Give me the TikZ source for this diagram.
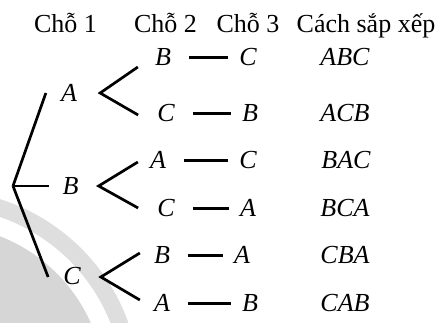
\documentclass[tikz,border=0pt]{standalone}
\usepackage{fontspec}
\setmainfont{Liberation Serif}
\usepackage{tikz}
\definecolor{wmgray}{RGB}{214,214,214}
\definecolor{wmlight}{RGB}{222,222,222}
\newcommand{\bigtext}{\fontsize{26}{30}\selectfont}
\tikzset{
    header/.style={anchor=base, inner sep=0pt, font=\bigtext},
    letter/.style={font=\bigtext\itshape, inner sep=0pt},
    branch/.style={line width=2.7pt},
    link/.style={line width=3pt, shorten <=18pt, shorten >=11pt},
}
\begin{document}
\begin{tikzpicture}[x=1pt, y=-1pt]
\useasboundingbox (0,0) rectangle (448,322);

% Faint background mark
\begin{scope}
\clip (0,0) rectangle (448,322);
\fill[wmlight] (-60,390) circle (200pt);
\fill[white] (-60,390) circle (183pt);
\fill[wmgray] (-60,390) circle (165pt);
\end{scope}

% Column headers
\node[header] (h1) at (65.5, 32) {Chỗ 1};
\node[header] (h2) at (165.5, 32) {Chỗ 2};
\node[header] (h3) at (248, 32) {Chỗ 3};
\node[header] (h4) at (366, 32) {Cách sắp xếp};

% Root and first place
\coordinate (root) at (13, 186);
\node[letter] (la) at (69, 93) {A};
\node[letter] (lb) at (70.5, 186) {B};
\node[letter] (lc) at (72, 276) {C};

% Second place
\node[letter] (s1) at (163, 57) {B};
\node[letter] (s2) at (166, 113) {C};
\node[letter] (s3) at (158, 160) {A};
\node[letter] (s4) at (166, 208) {C};
\node[letter] (s5) at (162, 255) {B};
\node[letter] (s6) at (162, 303) {A};

% Third place
\node[letter] (t1) at (248, 57) {C};
\node[letter] (t2) at (250, 113) {B};
\node[letter] (t3) at (248, 160) {C};
\node[letter] (t4) at (248, 208) {A};
\node[letter] (t5) at (242, 255) {A};
\node[letter] (t6) at (250, 303) {B};

% Arrangements
\node[letter] (r1) at (345, 57) {ABC};
\node[letter] (r2) at (345, 113) {ACB};
\node[letter] (r3) at (346, 160) {BAC};
\node[letter] (r4) at (345, 208) {BCA};
\node[letter] (r5) at (345, 255) {CBA};
\node[letter] (r6) at (345, 303) {CAB};

% Tree from the root
\draw[branch] (root) -- ([xshift=-15pt]la.west);
\draw[branch] (root) -- ([xshift=-13.5pt]lb.west);
\draw[branch] (root) -- ([xshift=-15pt, yshift=-1pt]lc.west);

% Forks to the second place
\draw[branch] ([xshift=-17pt, yshift=-10pt]s1.west) -- ([xshift=23pt]la.east) -- ([xshift=-19pt, yshift=-2pt]s2.west);
\draw[branch] ([xshift=-12pt, yshift=-2pt]s3.west) -- ([xshift=20pt]lb.east) -- ([xshift=-19pt]s4.west);
\draw[branch] ([xshift=-14pt, yshift=2pt]s5.west) -- ([xshift=20pt, yshift=-1pt]lc.east) -- ([xshift=-14pt, yshift=3pt]s6.west);

% Links to the third place
\draw[link] (s1) -- (t1);
\draw[link] (s2) -- (t2);
\draw[link] (s3) -- (t3);
\draw[link] (s4) -- (t4);
\draw[link] (s5) -- (t5);
\draw[link] (s6) -- (t6);

\end{tikzpicture}
\end{document}
